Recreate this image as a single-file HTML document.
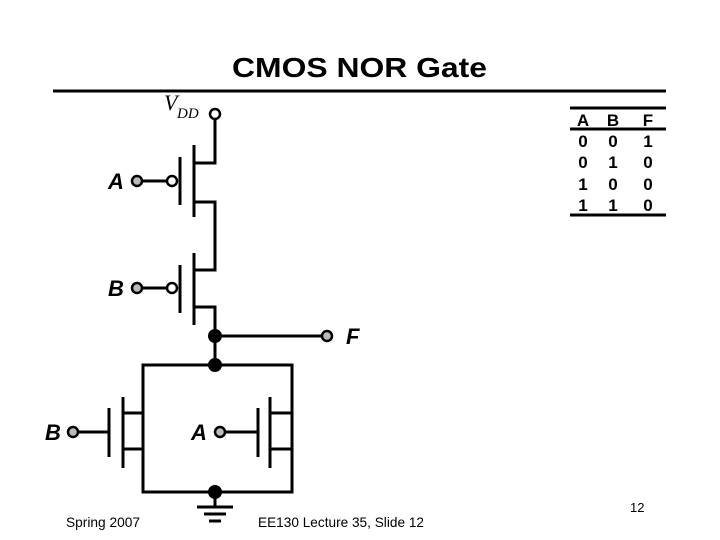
<!DOCTYPE html>
<html><head><style>html,body{margin:0;padding:0;background:#fff;}svg{display:block}</style></head>
<body>
<svg width="720" height="540" viewBox="0 0 720 540" xmlns="http://www.w3.org/2000/svg">
<rect width="720" height="540" fill="#fff"/>
<text x="232" y="77" font-family="Liberation Sans, sans-serif" font-size="28" font-weight="bold" textLength="255" lengthAdjust="spacingAndGlyphs">CMOS NOR Gate</text>
<line x1="53" y1="91" x2="666" y2="91" stroke="#000" stroke-width="3"/>
<text x="164" y="110" font-family="Liberation Serif, serif" font-style="italic" font-size="22">V</text>
<text x="177" y="118" font-family="Liberation Serif, serif" font-style="italic" font-size="15">DD</text>
<g stroke="#000" stroke-width="3" fill="none">
<polyline points="215,119 215,163 194,163"/>
<line x1="194" y1="145" x2="194" y2="217"/>
<line x1="180" y1="157" x2="180" y2="205"/>
<polyline points="194,202 215,202 215,270 194,270"/>
<line x1="142" y1="181" x2="167" y2="181"/>
<line x1="194" y1="253" x2="194" y2="325"/>
<line x1="180" y1="265" x2="180" y2="313"/>
<polyline points="194,307 215,307 215,365"/>
<line x1="142" y1="288" x2="167" y2="288"/>
<line x1="215" y1="336" x2="322" y2="336"/>
<rect x="143" y="365" width="149" height="127"/>
<polyline points="143,413 123,413"/>
<polyline points="143,449 123,449"/>
<line x1="123" y1="397" x2="123" y2="468"/>
<line x1="109" y1="408" x2="109" y2="457"/>
<line x1="78" y1="432" x2="109" y2="432"/>
<polyline points="292,413 270,413"/>
<polyline points="292,449 270,449"/>
<line x1="270" y1="397" x2="270" y2="468"/>
<line x1="258" y1="408" x2="258" y2="457"/>
<line x1="225" y1="432" x2="258" y2="432"/>
<line x1="215" y1="492" x2="215" y2="507"/>
</g>
<g stroke="#000" stroke-width="3">
<line x1="197" y1="507" x2="233" y2="507"/>
<line x1="204" y1="514" x2="226" y2="514"/>
<line x1="209" y1="521" x2="221" y2="521"/>
</g>
<g stroke="#000" stroke-width="2.5">
<circle cx="215" cy="114" r="5" fill="#fff"/>
<circle cx="172" cy="181" r="5" fill="#fff"/>
<circle cx="172" cy="288" r="5" fill="#fff"/>
<circle cx="137" cy="181" r="5" fill="#bbb"/>
<circle cx="137" cy="288" r="5" fill="#bbb"/>
<circle cx="327" cy="336" r="5" fill="#bbb"/>
<circle cx="73" cy="432" r="5" fill="#bbb"/>
<circle cx="220" cy="432" r="5" fill="#bbb"/>
</g>
<g fill="#000">
<circle cx="215" cy="336" r="7"/>
<circle cx="215" cy="365" r="7"/>
<circle cx="215" cy="492" r="7"/>
</g>
<g font-family="Liberation Sans, sans-serif" font-size="22" font-style="italic" font-weight="bold">
<text x="108" y="189">A</text>
<text x="108" y="296">B</text>
<text x="346" y="344">F</text>
<text x="45" y="440">B</text>
<text x="191" y="440">A</text>
</g>
<g stroke="#000" stroke-width="3">
<line x1="570" y1="108" x2="666" y2="108"/>
<line x1="570" y1="129" x2="666" y2="129"/>
<line x1="570" y1="215" x2="666" y2="215"/>
</g>
<g font-family="Liberation Sans, sans-serif" font-size="17" font-weight="bold" text-anchor="middle">
<text x="583" y="126">A</text><text x="613" y="126">B</text><text x="648" y="126">F</text>
<text x="583" y="147">0</text><text x="613" y="147">0</text><text x="648" y="147">1</text>
<text x="583" y="168">0</text><text x="613" y="168">1</text><text x="648" y="168">0</text>
<text x="583" y="190">1</text><text x="613" y="190">0</text><text x="648" y="190">0</text>
<text x="583" y="211">1</text><text x="613" y="211">1</text><text x="648" y="211">0</text>
</g>
<g font-family="Liberation Sans, sans-serif" font-size="14">
<text x="66" y="527" textLength="74" lengthAdjust="spacingAndGlyphs">Spring 2007</text>
<text x="258" y="527" textLength="166" lengthAdjust="spacingAndGlyphs">EE130 Lecture 35, Slide 12</text>
<text x="630" y="512" font-size="13">12</text>
</g>
</svg>
</body></html>
